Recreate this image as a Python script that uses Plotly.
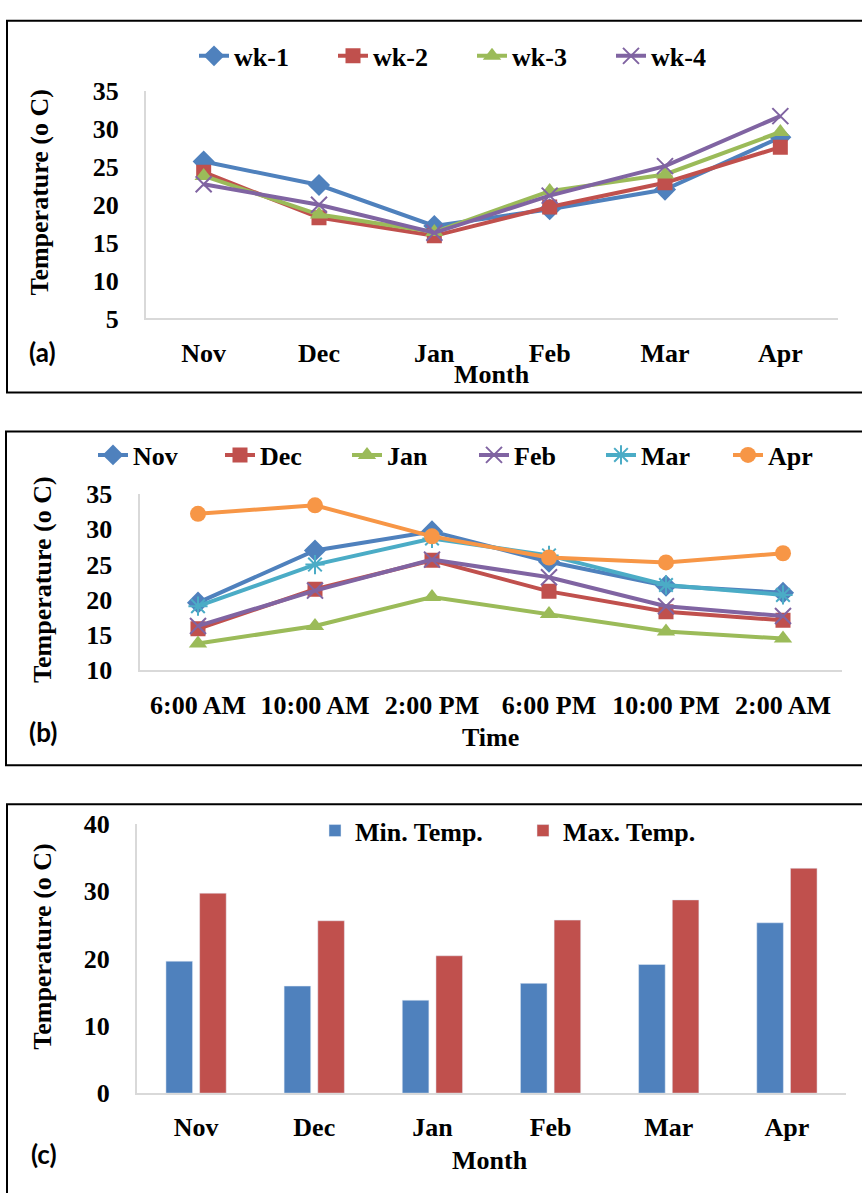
import plotly.graph_objects as go

W, H = 862, 1193

# ---------------- data ----------------
months = ["Nov", "Dec", "Jan", "Feb", "Mar", "Apr"]
weeks = ["wk-1", "wk-2", "wk-3", "wk-4"]
wk1 = [25.7, 22.6, 17.2, 19.4, 22.0, 28.9]
wk2 = [24.3, 18.3, 15.9, 19.7, 22.9, 27.6]
wk3 = [23.8, 18.7, 16.4, 21.8, 24.0, 29.6]
wk4 = [22.7, 20.0, 16.3, 21.2, 25.1, 31.7]

times = ["6:00 AM", "10:00 AM", "2:00 PM", "6:00 PM", "10:00 PM", "2:00 AM"]
nov_t = [19.6, 27.0, 29.7, 25.4, 22.0, 21.0]
dec_t = [15.9, 21.5, 25.6, 21.2, 18.3, 17.1]
jan_t = [13.8, 16.3, 20.4, 18.0, 15.5, 14.5]
feb_t = [16.3, 21.3, 25.7, 23.2, 19.1, 17.7]
mar_t = [19.1, 25.0, 28.7, 26.3, 22.1, 20.7]
apr_t = [32.2, 33.4, 29.0, 26.0, 25.3, 26.6]

min_temp = [19.6, 15.9, 13.8, 16.3, 19.1, 25.3]
max_temp = [29.7, 25.6, 20.4, 25.7, 28.7, 33.4]

# ---------------- styles ----------------
BLUE, RED, GREEN, PURPLE, CYAN, ORANGE = "#4F81BD", "#C0504D", "#9BBB59", "#8064A2", "#4BACC6", "#F79646"
SERIF = "Liberation Serif"
AX_GRAY = "#d9d9d9"

def px(x):
    return x / W

def py(y):
    return 1 - y / H

fig = go.Figure()

def marker(sym, color, size):
    if sym in ("x-thin-open", "asterisk-open"):
        return dict(symbol=sym, size=size, color=color, line=dict(color=color, width=2))
    return dict(symbol=sym, size=size, color=color)

# panel (a)
wk_series = [wk1, wk2, wk3, wk4]
wk_style = [("diamond", BLUE, 17), ("square", RED, 15), ("triangle-up", GREEN, 16), ("x-thin-open", PURPLE, 16)]
for name, vals, (sym, col, sz) in zip(weeks, wk_series, wk_style):
    fig.add_trace(go.Scatter(x=months, y=vals, name=name, mode="lines+markers",
                             line=dict(color=col, width=4), marker=marker(sym, col, sz),
                             xaxis="x", yaxis="y", legend="legend"))

# panel (b)
t_series = [nov_t, dec_t, jan_t, feb_t, mar_t, apr_t]
t_style = [("diamond", BLUE, 17), ("square", RED, 15), ("triangle-up", GREEN, 16),
           ("x-thin-open", PURPLE, 16), ("asterisk-open", CYAN, 16), ("circle", ORANGE, 16)]
for name, vals, (sym, col, sz) in zip(months, t_series, t_style):
    fig.add_trace(go.Scatter(x=times, y=vals, name=name, mode="lines+markers",
                             line=dict(color=col, width=4), marker=marker(sym, col, sz),
                             xaxis="x2", yaxis="y2", legend="legend2"))

# panel (c)
fig.add_trace(go.Bar(x=months, y=min_temp, name="Min. Temp.", marker_color=BLUE,
                     xaxis="x3", yaxis="y3", legend="legend3"))
fig.add_trace(go.Bar(x=months, y=max_temp, name="Max. Temp.", marker_color=RED,
                     xaxis="x3", yaxis="y3", legend="legend3"))

tickfont = dict(family=SERIF, size=26, color="black", weight="bold")

def xax(x0, x1, anchor):
    return dict(domain=[px(x0), px(x1)], anchor=anchor, type="category", range=[-0.5, 5.5],
                showline=True, linecolor=AX_GRAY, linewidth=2, ticks="", showgrid=False,
                zeroline=False, tickfont=tickfont, ticklabelstandoff=10, fixedrange=True)

def yax(y_bottom, y_top, rng, dtick, anchor):
    return dict(domain=[py(y_bottom), py(y_top)], anchor=anchor, range=rng, dtick=dtick,
                showline=True, linecolor=AX_GRAY, linewidth=2, ticks="", showgrid=False,
                zeroline=False, tickfont=tickfont, ticklabelstandoff=20, fixedrange=True)

legfont = dict(family=SERIF, size=26, color="black", weight="bold")

annotations = []
def ann(text, x, y, size=26, family=SERIF, angle=0):
    annotations.append(dict(text=text, x=px(x), y=py(y), xref="paper", yref="paper",
                            showarrow=False, textangle=angle, xanchor="center", yanchor="middle",
                            font=dict(family=family, size=size, color="black", weight="bold")))

ytitle = "Temperature (o C)"
ann(ytitle, 40, 183, angle=-90)
ann("Month", 492, 369)
ann("(a)", 42, 346, size=26, family="Lato")
ann(ytitle, 43, 580, angle=-90)
ann("Time", 490, 742)
ann("(b)", 43, 736, size=26, family="Lato")
ann(ytitle, 43, 956, angle=-90)
ann("Month", 490, 1175)
ann("(c)", 44, 1168, size=26, family="Lato")

shapes = []
def frame(x0, y0, y1):
    shapes.append(dict(type="rect", xref="paper", yref="paper", x0=px(x0), x1=px(W + 20),
                       y0=py(y1), y1=py(y0), line=dict(color="black", width=2)))
frame(7, 7, 388)
frame(6, 428, 770)
frame(7, 810, H + 20)

fig.update_layout(
    width=W, height=H, autosize=False,
    margin=dict(l=0, r=0, t=0, b=0),
    paper_bgcolor="white", plot_bgcolor="white",
    xaxis=xax(146, 838, "y"),
    yaxis=yax(312, 79, [5, 35], 5, "x"),
    xaxis2=xax(139.5, 841.5, "y2"),
    yaxis2=yax(672.7, 492, [10, 35], 5, "x2"),
    xaxis3=xax(137, 846, "y3"),
    yaxis3=yax(1106, 830, [0, 40], 10, "x3"),
    barmode="group", bargap=0.43, bargroupgap=0.21,
    legend=dict(orientation="h", x=px(194), y=py(43), xanchor="left", yanchor="middle",
                font=legfont, entrywidth=94, bgcolor="rgba(0,0,0,0)", traceorder="normal"),
    legend2=dict(orientation="h", x=px(93), y=py(452), xanchor="left", yanchor="middle",
                 font=legfont, entrywidth=82, bgcolor="rgba(0,0,0,0)", traceorder="normal"),
    legend3=dict(orientation="h", x=px(315), y=py(837), xanchor="left", yanchor="middle",
                 font=legfont, entrywidth=163, bgcolor="rgba(0,0,0,0)", traceorder="normal"),
    annotations=annotations,
    shapes=shapes,
    showlegend=True,
)

fig.write_html("out.html", post_script="document.body.style.margin='0';",
               config={"displayModeBar": False})
